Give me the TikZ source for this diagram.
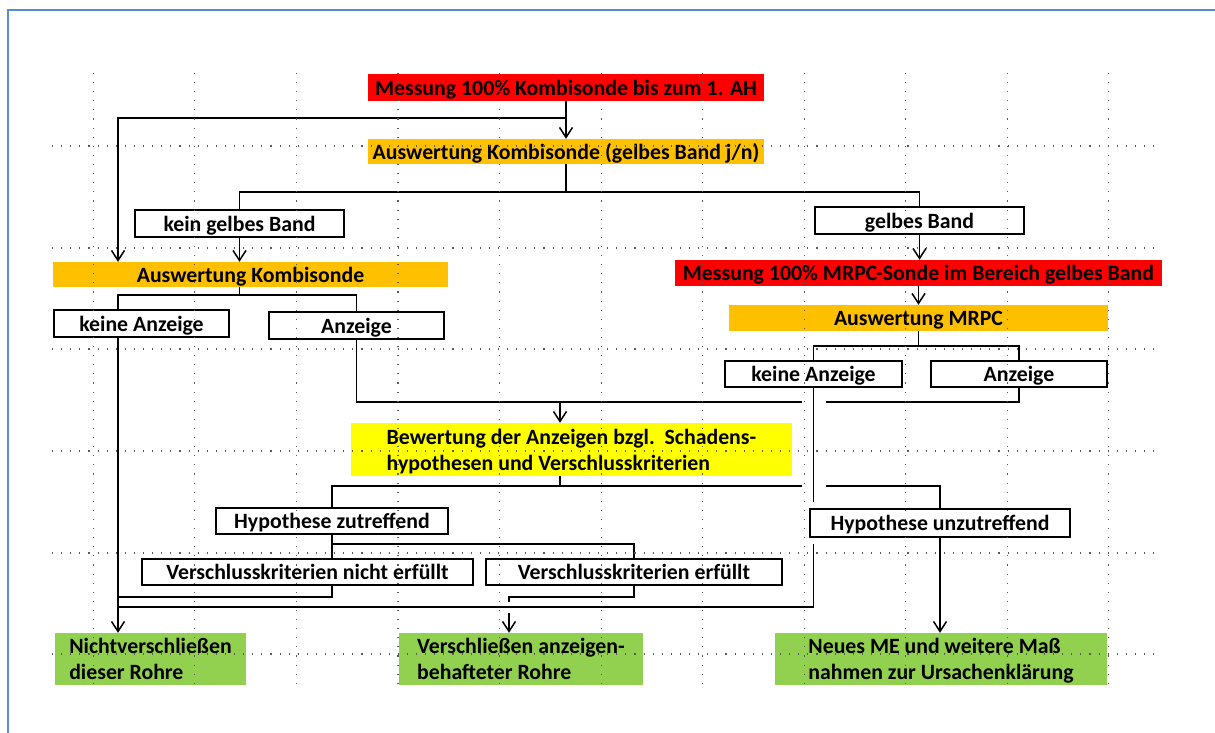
\documentclass[tikz,border=0pt]{standalone}
\usepackage{fontspec}
\setmainfont{Carlito}
\usetikzlibrary{arrows.meta,calc}
\definecolor{cred}{HTML}{FF0000}
\definecolor{corange}{HTML}{FFC000}
\definecolor{cyellow}{HTML}{FFFF00}
\definecolor{cgreen}{HTML}{92D050}
\definecolor{cframe}{HTML}{5B8BD0}
\tikzset{
 txt/.style={font=\bfseries\fontsize{21.8}{26}\selectfont, inner sep=0pt, text depth=0pt, align=left, text=black},
 wbox/.style={txt, draw=black, line width=1.6pt, fill=white},
 redbox/.style={txt, fill=cred},
 orbox/.style={txt, fill=corange},
 yebox/.style={txt, fill=cyellow},
 grbox/.style={txt, fill=cgreen},
 conn/.style={line width=1.5pt, black},
 arr/.style={conn, -{Straight Barb[length=10pt,width=13pt]}},
 gridline/.style={black!65, line width=1.1pt, dash pattern=on 1.1pt off 8pt},
 frameline/.style={cframe, line width=1.6pt},
}
\begin{document}
\begin{tikzpicture}[x=1pt,y=-1pt]
\useasboundingbox (0,0) rectangle (1215,733);
\fill[white] (0,0) rectangle (1215,733);
\draw[frameline] (8,733) -- (8,10) -- (1215,10);

% nodes
\node[redbox, minimum width=396pt, minimum height=27pt] (r1) at (566,87.5) {Messung 100\% Kombisonde bis zum 1. AH};
\node[orbox, minimum width=396pt, minimum height=25pt] (o2) at (566,151.5) {Auswertung Kombisonde (gelbes Band j/n)};
\node[wbox, minimum width=209pt, minimum height=27pt] (kgb) at (239.5,223.5) {kein gelbes Band};
\node[wbox, minimum width=209pt, minimum height=27pt] (gb) at (919.5,220.5) {gelbes Band};
\node[orbox, minimum width=395pt, minimum height=25pt] (o5) at (250.5,274.5) {Auswertung Kombisonde};
\node[redbox, minimum width=487pt, minimum height=26pt] (r6) at (918.5,273) {Messung 100\% MRPC-Sonde im Bereich gelbes Band};
\node[orbox, minimum width=379pt, minimum height=26pt] (o7) at (918.5,318) {Auswertung MRPC};
\node[wbox, minimum width=175pt, minimum height=27pt] (kaL) at (141.5,323.5) {keine Anzeige};
\node[wbox, minimum width=175pt, minimum height=27pt] (aL) at (356.5,325.5) {Anzeige};
\node[wbox, minimum width=177pt, minimum height=26pt] (kaR) at (813.5,374) {keine Anzeige};
\node[wbox, minimum width=176pt, minimum height=26pt] (aR) at (1019,374) {Anzeige};
\node[yebox, minimum width=441pt, minimum height=53pt] (y12) at (571.5,449.5) {Bewertung der Anzeigen bzgl.\ \ Schadens-\\hypothesen und Verschlusskriterien};
\node[wbox, minimum width=232pt, minimum height=26pt] (hz) at (332,521) {Hypothese zutreffend};
\node[wbox, minimum width=260pt, minimum height=28pt] (hu) at (940,523) {Hypothese unzutreffend};
\node[wbox, minimum width=331pt, minimum height=26pt] (vn) at (307.5,572) {Verschlusskriterien nicht erfüllt};
\node[wbox, minimum width=296pt, minimum height=26pt] (ve) at (634,572) {Verschlusskriterien erfüllt};
\node[grbox, minimum width=191pt, minimum height=52pt] (g17) at (150.5,659) {Nichtverschließen\\dieser Rohre};
\node[grbox, minimum width=244pt, minimum height=52pt] (g18) at (521,659) {Verschließen anzeigen-\\behafteter Rohre};
\node[grbox, minimum width=332pt, minimum height=52pt] (g19) at (941,659) {Neues ME und weitere Maß\\nahmen zur Ursachenklärung};

% coordinates
\coordinate (lx) at (118,118);
\coordinate (jA) at (566,118);
\coordinate (jB) at (566,192);
\coordinate (jF) at (239.5,295);
\coordinate (jG) at (918.5,346);
\coordinate (jI) at (560,402);
\coordinate (jK) at (560,486);
\coordinate (gapL) at (801.5,0);
\coordinate (gapR) at (825.5,0);
\coordinate (jL) at (0,544);
\coordinate (jM) at (0,597);
\coordinate (jN) at (0,607);
\coordinate (jO) at (509,597);

% connectors
\draw[arr] (r1.south) -- (o2.north);
\draw[arr] (jA) -- (lx) -- (lx |- o5.north);
\draw[conn] (o2.south) -- (jB);
\draw[conn] (kgb.north) -- (kgb.north |- jB) -- (gb.north |- jB) -- (gb.north);
\draw[arr] (kgb.south) -- (kgb.south |- o5.north);
\draw[arr] (gb.south) -- (gb.south |- r6.north);
\draw[arr] (r6.south) -- (o7.north);
\draw[conn] (kgb.south |- o5.south) -- (jF);
\draw[conn] (lx |- kaL.north) -- (lx |- jF) -- (aL.north |- jF) -- (aL.north);
\draw[conn] (o7.south) -- (jG);
\draw[conn] (kaR.north) -- (kaR.north |- jG) -- (aR.north |- jG) -- (aR.north);
\draw[arr] (lx |- kaL.south) -- (lx |- g17.north);
\draw[conn] (aL.south) -- (aL.south |- jI) -- (gapL |- jI);
\draw[conn] (gapR |- jI) -- (aR.south |- jI) -- (aR.south);
\draw[arr] (jI) -- (jI |- y12.north);
\draw[conn] (jI |- y12.south) -- (jK);
\draw[conn] (hz.north) -- (hz.north |- jK) -- (gapL |- jK);
\draw[conn] (gapR |- jK) -- (hu.north |- jK) -- (hu.north);
\draw[conn] (kaR.south) -- ($(kaR.south |- hu.north)+(0,-6)$);
\draw[conn] ($(kaR.south |- hu.south)+(0,6)$) -- (kaR.south |- jN) -- (lx |- jN);
\draw[conn] (hz.south) -- (hz.south |- vn.north);
\draw[conn] (hz.south |- jL) -- (ve.north |- jL) -- (ve.north);
\draw[conn] (hz.south |- vn.south) -- (hz.south |- jM) -- (lx |- jM);
\draw[conn] (ve.south) -- (ve.south |- jM) -- (jO) -- ($(jO)+(0,5)$);
\draw[arr] ($(jO)+(0,16)$) -- (jO |- g18.north);
\draw[arr] (hu.south) -- (hu.south |- g19.north);

% dotted grid (on top)
\foreach \k in {0,...,10} \draw[gridline] ({93.3+101.55*\k},73) -- ({93.3+101.55*\k},690);
\foreach \yy in {146,248,349,451,553,654} \draw[gridline] (52,\yy) -- (1161,\yy);
\end{tikzpicture}
\end{document}
